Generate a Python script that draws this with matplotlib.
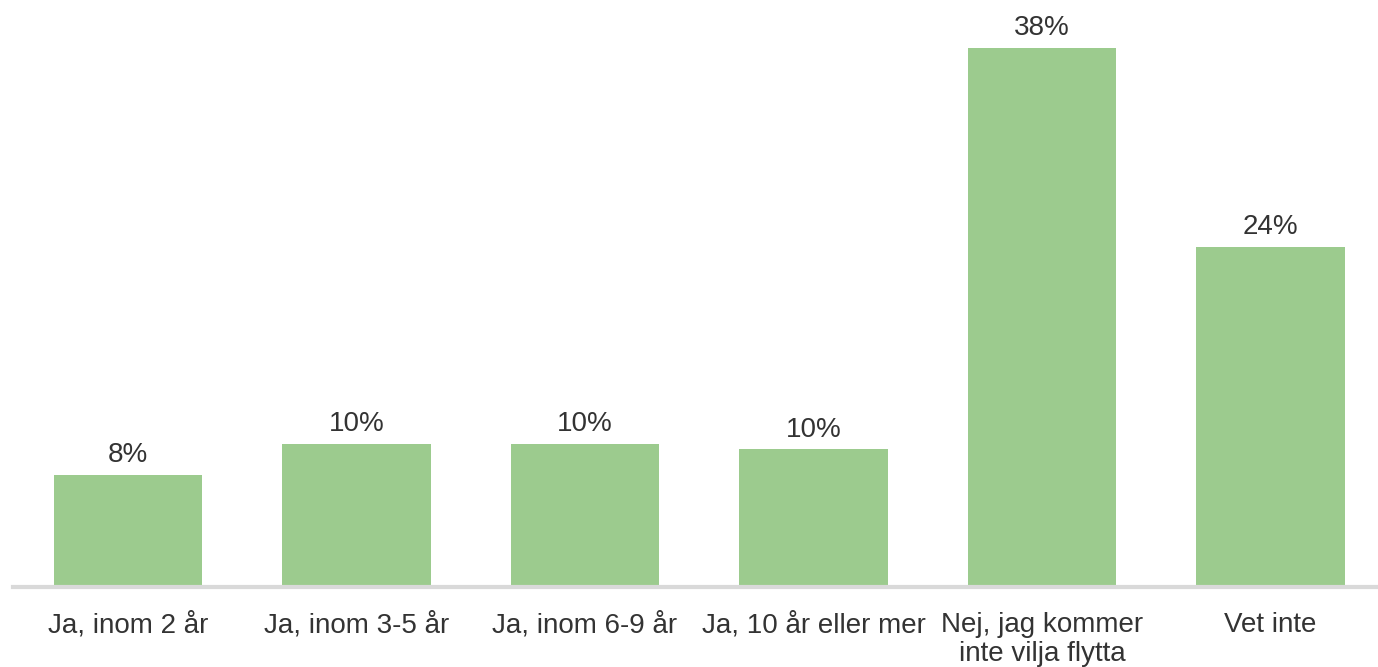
import matplotlib
matplotlib.use("Agg")
from matplotlib import pyplot as plt

categories = ["Ja, inom 2 år", "Ja, inom 3-5 år", "Ja, inom 6-9 år",
              "Ja, 10 år eller mer", "Nej, jag kommer\ninte vilja flytta", "Vet inte"]
values = [7.9, 10.1, 10.1, 9.7, 38.0, 24.0]
value_labels = ["8%", "10%", "10%", "10%", "38%", "24%"]

plt.rcParams['font.family'] = ['Liberation Sans', 'DejaVu Sans']

fig = plt.figure(figsize=(13.78, 6.67), dpi=100)
ax = fig.add_axes([13 / 1378, 80 / 667, 1365 / 1378, 587 / 667])

x = range(len(categories))
bars = ax.bar(x, values, width=0.65, color="#9ccb8e", zorder=2)

for bar, lab in zip(bars, value_labels):
    ax.annotate(lab, (bar.get_x() + bar.get_width() / 2, bar.get_height()),
                xytext=(0, 5), textcoords="offset points",
                ha="center", va="bottom", fontsize=20, color="#333333")

ax.set_xlim(-0.503, 5.47)
ax.set_ylim(0, 41.4)
ax.set_xticks(list(x))
ax.set_xticklabels(categories, fontsize=20, color="#333333", linespacing=1.15)
ax.tick_params(axis="x", length=0, pad=18)
ax.set_yticks([])
for side in ["top", "right", "left"]:
    ax.spines[side].set_visible(False)
ax.spines["bottom"].set_color("#d9d9d9")
ax.spines["bottom"].set_linewidth(3)

fig.savefig("out.png", dpi=100)
